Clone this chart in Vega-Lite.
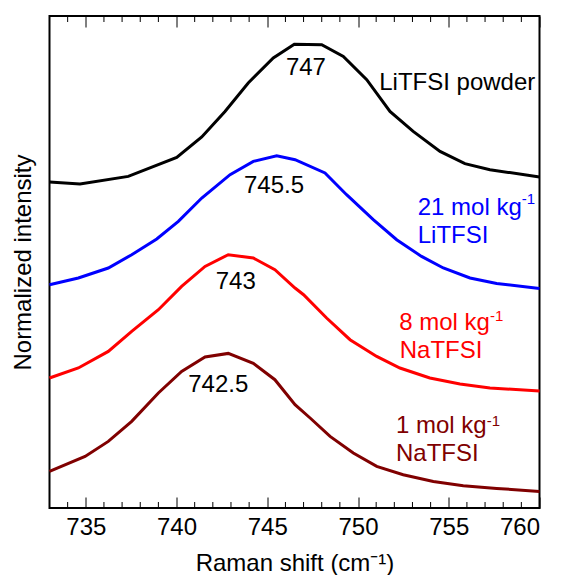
{
  "$schema": "https://vega.github.io/schema/vega-lite/v6.json",
  "width": 490,
  "height": 492,
  "autosize": {"type": "none"},
  "padding": {"left": 49.5, "top": 16, "right": 27.5, "bottom": 67},
  "config": {
    "font": "Liberation Sans",
    "view": {"stroke": "#000000", "strokeWidth": 2},
    "axis": {"grid": false, "domain": false, "tickColor": "#000000", "labelColor": "#000000", "titleColor": "#000000"}
  },
  "datasets": {
    "spectra": [
      {"s": "powder", "x": 733, "y": 326}, {"s": "powder", "x": 734.68, "y": 324}, {"s": "powder", "x": 737.34, "y": 331.6}, {"s": "powder", "x": 740.01, "y": 350.6}, {"s": "powder", "x": 741.39, "y": 371}, {"s": "powder", "x": 742.67, "y": 396.6}, {"s": "powder", "x": 743.95, "y": 425}, {"s": "powder", "x": 745.33, "y": 450}, {"s": "powder", "x": 746.49, "y": 463.8}, {"s": "powder", "x": 748.0, "y": 463.3}, {"s": "powder", "x": 749.19, "y": 451.6}, {"s": "powder", "x": 750.48, "y": 428.3}, {"s": "powder", "x": 751.76, "y": 396.6}, {"s": "powder", "x": 753.04, "y": 376.6}, {"s": "powder", "x": 754.52, "y": 356.6}, {"s": "powder", "x": 755.89, "y": 344.3}, {"s": "powder", "x": 757.27, "y": 338.3}, {"s": "powder", "x": 760, "y": 331},
      {"s": "21", "x": 733, "y": 223.3}, {"s": "21", "x": 734.59, "y": 230}, {"s": "21", "x": 736.24, "y": 240}, {"s": "21", "x": 737.53, "y": 253.3}, {"s": "21", "x": 738.91, "y": 269}, {"s": "21", "x": 740.1, "y": 286.6}, {"s": "21", "x": 741.39, "y": 310}, {"s": "21", "x": 742.95, "y": 333.3}, {"s": "21", "x": 744.23, "y": 346.6}, {"s": "21", "x": 745.52, "y": 352.3}, {"s": "21", "x": 746.53, "y": 348.3}, {"s": "21", "x": 748.18, "y": 335}, {"s": "21", "x": 749.37, "y": 313.3}, {"s": "21", "x": 750.84, "y": 288.3}, {"s": "21", "x": 752.13, "y": 268.3}, {"s": "21", "x": 753.5, "y": 251.6}, {"s": "21", "x": 754.7, "y": 240}, {"s": "21", "x": 756.17, "y": 230}, {"s": "21", "x": 757.64, "y": 224.5}, {"s": "21", "x": 760, "y": 219.5},
      {"s": "8", "x": 733, "y": 130}, {"s": "8", "x": 734.59, "y": 140}, {"s": "8", "x": 736.24, "y": 156.6}, {"s": "8", "x": 737.53, "y": 176.6}, {"s": "8", "x": 739.0, "y": 198.3}, {"s": "8", "x": 740.28, "y": 221.6}, {"s": "8", "x": 741.57, "y": 241.6}, {"s": "8", "x": 742.85, "y": 253.3}, {"s": "8", "x": 744.23, "y": 250}, {"s": "8", "x": 745.42, "y": 238.3}, {"s": "8", "x": 746.53, "y": 220}, {"s": "8", "x": 747.0, "y": 213.3}, {"s": "8", "x": 748.27, "y": 190}, {"s": "8", "x": 749.56, "y": 168.3}, {"s": "8", "x": 751.03, "y": 151.6}, {"s": "8", "x": 752.31, "y": 140}, {"s": "8", "x": 753.96, "y": 130}, {"s": "8", "x": 755.62, "y": 124}, {"s": "8", "x": 757.27, "y": 120}, {"s": "8", "x": 760, "y": 117},
      {"s": "1", "x": 733, "y": 36.6}, {"s": "1", "x": 734.96, "y": 51.6}, {"s": "1", "x": 736.24, "y": 66.6}, {"s": "1", "x": 737.53, "y": 86.6}, {"s": "1", "x": 739.0, "y": 115}, {"s": "1", "x": 740.28, "y": 136.6}, {"s": "1", "x": 741.57, "y": 151}, {"s": "1", "x": 742.85, "y": 154.6}, {"s": "1", "x": 744.23, "y": 144.6}, {"s": "1", "x": 745.42, "y": 128.3}, {"s": "1", "x": 746.53, "y": 103.3}, {"s": "1", "x": 747.36, "y": 90}, {"s": "1", "x": 748.46, "y": 71.6}, {"s": "1", "x": 749.74, "y": 55}, {"s": "1", "x": 751.03, "y": 41.6}, {"s": "1", "x": 752.49, "y": 33.3}, {"s": "1", "x": 754.15, "y": 26.6}, {"s": "1", "x": 755.8, "y": 22.3}, {"s": "1", "x": 757.64, "y": 19.6}, {"s": "1", "x": 760, "y": 16.6}
    ],
    "minors": [{"v": 734}, {"v": 736}, {"v": 737}, {"v": 738}, {"v": 739}, {"v": 741}, {"v": 742}, {"v": 743}, {"v": 744}, {"v": 746}, {"v": 747}, {"v": 748}, {"v": 749}, {"v": 751}, {"v": 752}, {"v": 753}, {"v": 754}, {"v": 756}, {"v": 757}, {"v": 758}, {"v": 759}],
    "peaks": [
      {"t": "747", "s": "powder", "x": 747.13, "y": 433.3},
      {"t": "745.5", "s": "powder", "x": 745.37, "y": 315},
      {"t": "743", "s": "powder", "x": 743.26, "y": 219.3},
      {"t": "742.5", "s": "powder", "x": 742.3, "y": 115.6}
    ],
    "names": [
      {"t": "LiTFSI powder", "s": "powder", "x": 751.17, "y": 418.3},
      {"t": "21 mol kg", "s": "21", "x": 753.29, "y": 293.3},
      {"t": "LiTFSI", "s": "21", "x": 753.29, "y": 265},
      {"t": "8 mol kg", "s": "8", "x": 752.27, "y": 178.3},
      {"t": "NaTFSI", "s": "8", "x": 752.3, "y": 150},
      {"t": "1 mol kg", "s": "1", "x": 752.09, "y": 75},
      {"t": "NaTFSI", "s": "1", "x": 752.09, "y": 46.6}
    ],
    "supers": [
      {"t": "-1", "s": "21", "x": 759.02, "y": 304.3},
      {"t": "-1", "s": "8", "x": 757.27, "y": 187.3},
      {"t": "-1", "s": "1", "x": 757.09, "y": 81.6}
    ]
  },
  "resolve": {"axis": {"x": "independent", "y": "independent"}},
  "layer": [
    {
      "data": {"name": "spectra"},
      "mark": {"type": "line", "strokeWidth": 3, "interpolate": "linear"},
      "encoding": {
        "x": {
          "field": "x", "type": "quantitative",
          "scale": {"domain": [733, 760], "nice": false, "zero": false},
          "axis": {
            "orient": "bottom",
            "values": [735, 740, 745, 750, 755, 760],
            "ticks": true,
            "tickSize": -11,
            "labelFontSize": 24,
            "labelPadding": 18,
            "title": "Raman shift (cm⁻¹)",
            "titleFontSize": 24,
            "titleFontWeight": "normal",
            "titleBaseline": "alphabetic",
            "titleY": 62
          }
        },
        "y": {
          "field": "y", "type": "quantitative",
          "scale": {"domain": [0, 492], "nice": false, "zero": false},
          "axis": {
            "orient": "left",
            "title": "Normalized intensity",
            "ticks": false,
            "labels": false,
            "titleFontSize": 24,
            "titleFontWeight": "normal",
            "titleBaseline": "alphabetic",
            "titleX": -18.8
          }
        },
        "color": {
          "field": "s", "type": "nominal",
          "scale": {"domain": ["powder", "21", "8", "1"], "range": ["#000000", "#0000ff", "#ff0000", "#800000"]},
          "legend": null
        },
        "detail": {"field": "s"}
      }
    },
    {
      "data": {"name": "peaks"},
      "mark": {"type": "text", "fontSize": 24, "align": "center", "baseline": "alphabetic"},
      "encoding": {
        "x": {
          "field": "x", "type": "quantitative",
          "axis": {
            "orient": "top",
            "values": [735, 740, 745, 750, 755, 760],
            "labels": false,
            "ticks": true,
            "title": null,
            "tickSize": -11
          }
        },
        "y": {"field": "y", "type": "quantitative", "axis": null},
        "text": {"field": "t"},
        "color": {"field": "s", "type": "nominal", "legend": null}
      }
    },
    {
      "data": {"name": "minors"},
      "mark": {"type": "rule", "color": "#000000", "strokeWidth": 1},
      "encoding": {
        "x": {"field": "v", "type": "quantitative", "axis": null},
        "y": {"datum": 0, "type": "quantitative", "axis": null},
        "y2": {"datum": 6}
      }
    },
    {
      "data": {"name": "minors"},
      "mark": {"type": "rule", "color": "#000000", "strokeWidth": 1},
      "encoding": {
        "x": {"field": "v", "type": "quantitative", "axis": null},
        "y": {"datum": 492, "type": "quantitative", "axis": null},
        "y2": {"datum": 486}
      }
    },
    {
      "data": {"name": "names"},
      "mark": {"type": "text", "fontSize": 24, "align": "left", "baseline": "alphabetic"},
      "encoding": {
        "x": {"field": "x", "type": "quantitative", "axis": null},
        "y": {"field": "y", "type": "quantitative", "axis": null},
        "text": {"field": "t"},
        "color": {"field": "s", "type": "nominal", "legend": null}
      }
    },
    {
      "data": {"name": "supers"},
      "mark": {"type": "text", "fontSize": 15, "align": "left", "baseline": "alphabetic"},
      "encoding": {
        "x": {"field": "x", "type": "quantitative", "axis": null},
        "y": {"field": "y", "type": "quantitative", "axis": null},
        "text": {"field": "t"},
        "color": {"field": "s", "type": "nominal", "legend": null}
      }
    }
  ]
}
